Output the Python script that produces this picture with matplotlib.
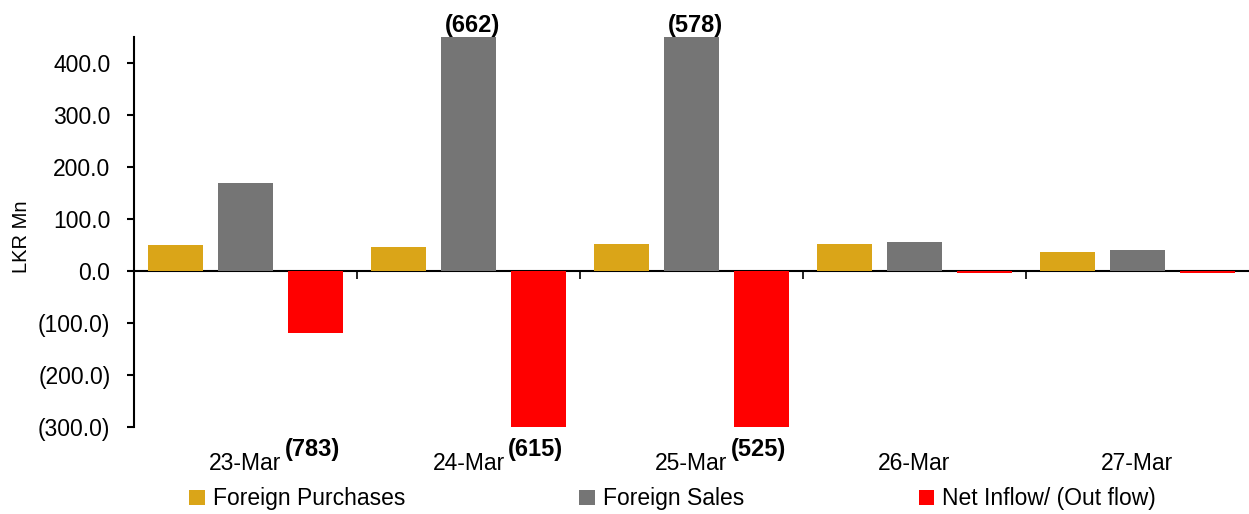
import numpy as np
import matplotlib.pyplot as plt
from matplotlib.ticker import FuncFormatter

plt.rcParams['font.family'] = ['Liberation Sans', 'DejaVu Sans']

dates = ['23-Mar', '24-Mar', '25-Mar', '26-Mar', '27-Mar']
purchases = [50.0, 46.0, 52.5, 52.5, 37.0]
sales = [169.0, 662.0, 578.0, 56.0, 40.0]
net = [-119.0, -615.0, -525.0, -3.5, -3.0]
sales_labels = ['', '(662)', '(578)', '', '']
net_labels = ['(783)', '(615)', '(525)', '', '']
y_ticks = [-300, -200, -100, 0, 100, 200, 300, 400]

c_buy, c_sell, c_net = '#DAA518', '#757575', '#FF0000'
ylim = (-300, 450)

W, H = 1249, 514
fig = plt.figure(figsize=(W / 100, H / 100), dpi=100)
ax = fig.add_axes([134 / W, 1 - 427 / H, (W - 134) / W, (427 - 37) / H])

x = np.arange(len(dates))
step, bw = 0.3125, 0.245
b1 = ax.bar(x - step, purchases, bw, color=c_buy, label='Foreign Purchases')
b2 = ax.bar(x, sales, bw, color=c_sell, label='Foreign Sales')
b3 = ax.bar(x + step, net, bw, color=c_net, label='Net Inflow/ (Out flow)')

ax.set_xlim(-0.5, len(dates) - 0.5)
ax.set_ylim(*ylim)
ax.set_yticks(y_ticks)
ax.yaxis.set_major_formatter(FuncFormatter(
    lambda v, p: f'({abs(v):.1f})' if v < 0 else f'{v:.1f}'))
ax.tick_params(axis='y', direction='out', length=5, width=1.5, pad=12, labelsize=16.5)

ax.set_xticks(x)
ax.set_xticklabels(dates)
ax.tick_params(axis='x', length=0, pad=18, labelsize=16.5)

for s in ['top', 'right', 'bottom']:
    ax.spines[s].set_visible(False)
ax.spines['left'].set_linewidth(1.5)

# zero line with category separators
zero_loc = (0 - ylim[0]) / (ylim[1] - ylim[0])
sec = ax.secondary_xaxis(zero_loc)
sec.set_xticks(x[:-1] + 0.5)
sec.set_xticklabels([])
sec.tick_params(direction='out', length=6, width=1.2)
sec.spines['bottom'].set_linewidth(1.5)
sec.spines['bottom'].set_color('black')

ax.set_ylabel('LKR Mn', fontsize=14.5)
ax.yaxis.set_label_coords(-0.092, 0.487)

for xi, lab in zip(x, sales_labels):
    if lab:
        ax.annotate(lab, xy=(xi, 1), xycoords=('data', 'axes fraction'),
                    xytext=(3, 8), textcoords='offset points', ha='center',
                    va='center', fontsize=17, fontweight='bold', annotation_clip=False)
for xi, lab in zip(x, net_labels):
    if lab:
        ax.annotate(lab, xy=(xi + step, 0), xycoords=('data', 'axes fraction'),
                    xytext=(-2, -16), textcoords='offset points', ha='center',
                    va='center', fontsize=17, fontweight='bold', annotation_clip=False)

fig.legend(handles=[b1, b2, b3], loc='center left',
           bbox_to_anchor=(189 / W, 1 - 499 / H), ncol=3, frameon=False,
           fontsize=16.5, handlelength=0.68, handleheight=0.68, handletextpad=0.36,
           columnspacing=7.6, borderpad=0, borderaxespad=0)

fig.savefig('out.png', dpi=100)
